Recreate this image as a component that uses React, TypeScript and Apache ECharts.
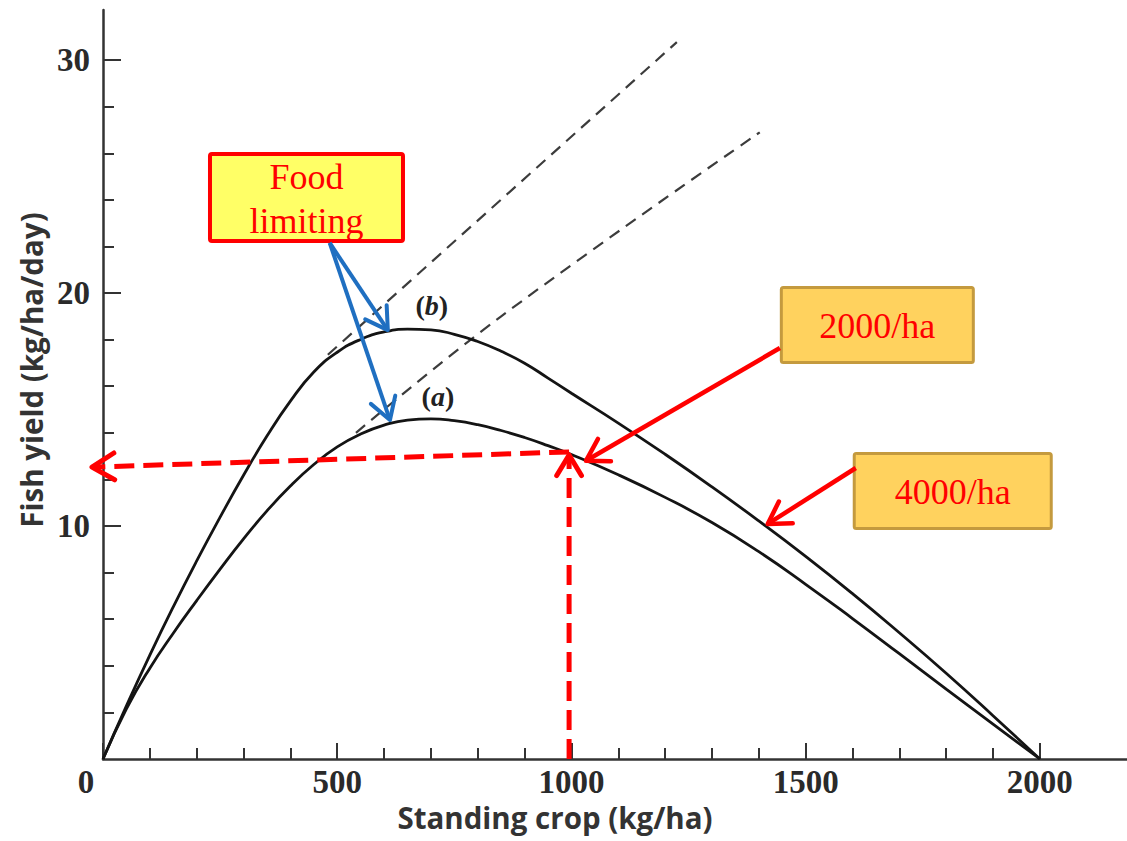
import React, { useEffect, useRef } from "react";
import * as echarts from "echarts";

// ---------------- data ----------------
const standingCrop = [0, 50, 100, 150, 200, 250, 300, 350, 400, 450, 500, 550, 600, 650, 700, 750, 800, 850, 900, 950, 1000, 1100, 1200, 1300, 1400, 1500, 1600, 1700, 1800, 1900, 2000];
const yieldB = [0, 2.28, 4.46, 6.53, 8.5, 10.38, 12.18, 13.86, 15.36, 16.61, 17.46, 18.01, 18.33, 18.45, 18.42, 18.23, 17.92, 17.5, 16.99, 16.35, 15.7, 14.42, 13.08, 11.68, 10.22, 8.7, 7.1, 5.42, 3.68, 1.86, 0];
const yieldA = [0, 2.15, 3.9, 5.4, 6.8, 8.15, 9.45, 10.65, 11.72, 12.64, 13.4, 13.95, 14.33, 14.55, 14.6, 14.52, 14.35, 14.1, 13.8, 13.45, 13.07, 12.2, 11.23, 10.15, 8.9, 7.5, 6.03, 4.52, 3.0, 1.5, 0];

const dashCropB = [480, 1225];
const dashYieldB = [17.35, 30.77];
const dashCropA = [540, 850, 1402];
const dashYieldA = [14.0, 19.0, 26.9];

const xTickLabels = [0, 500, 1000, 1500, 2000];
const xMinorTicks = [100, 200, 300, 400, 500, 600, 700, 800, 900, 1000, 1100, 1200, 1300, 1400, 1500, 1600, 1700, 1800, 1900, 2000];
const yTickLabels = [10, 20, 30];
const yMinorTicks = [2, 4, 6, 8, 10, 12, 14, 16, 18, 20, 22, 24, 26, 28, 30];

const curveLetters = ["a", "b"];
const xTitle = "Standing crop (kg/ha)";
const yTitle = "Fish yield (kg/ha/day)";
const boxTexts = ["Food\nlimiting", "2000/ha", "4000/ha"];

// ---------------- annotation layout (data-space anchors) ----------------
const BLUE = "#1F6FC1";
const RED = "#FF0000";
const SERIF = '"Liberation Serif", "Times New Roman", serif';
const SANS = '"Open Sans", Lato, sans-serif';
const NUM_COLOR = "#2a2a2a";

const arrowDefs = [
  { from: [484, 22.15], to: [608, 18.41], color: BLUE, width: 4, dash: null as number[] | null, head: 25 },
  { from: [484, 22.15], to: [612.6, 14.55], color: BLUE, width: 4, dash: null, head: 25 },
  { from: [1445, 17.64], to: [1031, 12.8], color: RED, width: 4.5, dash: null, head: 25 },
  { from: [1607, 12.49], to: [1419, 10.09], color: RED, width: 4.5, dash: null, head: 25 },
  { from: [995, 13.18], to: [-23.5, 12.53], color: RED, width: 5, dash: [20, 9], head: 26 },
  { from: [995, 0], to: [995, 13.05], color: RED, width: 5, dash: [20, 9], head: 24 },
];

const boxDefs = [
  { at: [434.4, 24.1], w: 193, h: 87, fill: "#FFFF66", stroke: "#FF0000", lw: 4 },
  { at: [1653, 18.63], w: 192, h: 75, fill: "#FFD25E", stroke: "#C49A3E", lw: 3 },
  { at: [1814, 11.5], w: 197, h: 75, fill: "#FFD25E", stroke: "#C49A3E", lw: 3 },
];

const letterAnchors = [
  [715, 15.54],
  [702, 19.48],
];

const SPREAD = Math.PI / 5.8;

const renderArrow = (params: any, api: any) => {
  const d = arrowDefs[params.dataIndex];
  const p1 = api.coord([api.value(0), api.value(1)]);
  const p2 = api.coord([api.value(2), api.value(3)]);
  const ang = Math.atan2(p1[1] - p2[1], p1[0] - p2[0]);
  const L = d.head;
  const a = [p2[0] + L * Math.cos(ang + SPREAD), p2[1] + L * Math.sin(ang + SPREAD)];
  const b = [p2[0] + L * Math.cos(ang - SPREAD), p2[1] + L * Math.sin(ang - SPREAD)];
  return {
    type: "group",
    children: [
      {
        type: "line",
        shape: { x1: p1[0], y1: p1[1], x2: p2[0], y2: p2[1] },
        style: { stroke: d.color, lineWidth: d.width, lineDash: d.dash || null, lineCap: "butt", fill: null },
      },
      {
        type: "polyline",
        shape: { points: [a, p2, b] },
        style: { stroke: d.color, lineWidth: d.width, fill: null, lineJoin: "round", lineCap: "round" },
      },
    ],
  };
};

const renderBox = (params: any, api: any) => {
  const b = boxDefs[params.dataIndex];
  const c = api.coord([api.value(0), api.value(1)]);
  return {
    type: "group",
    children: [
      {
        type: "rect",
        shape: { x: c[0] - b.w / 2, y: c[1] - b.h / 2, width: b.w, height: b.h, r: 2 },
        style: { fill: b.fill, stroke: b.stroke, lineWidth: b.lw },
      },
      {
        type: "text",
        x: c[0],
        y: c[1] + 1,
        style: {
          text: boxTexts[params.dataIndex],
          fill: RED,
          fontFamily: SERIF,
          fontSize: 36,
          lineHeight: 44,
          align: "center",
          verticalAlign: "middle",
        },
      },
    ],
  };
};

const renderLetter = (params: any, api: any) => {
  const c = api.coord([api.value(0), api.value(1)]);
  const letter = curveLetters[params.dataIndex];
  return {
    type: "text",
    x: c[0],
    y: c[1],
    style: {
      text: `{p|(}{i|${letter}}{p|)}`,
      align: "center",
      verticalAlign: "middle",
      rich: {
        p: { fontFamily: SERIF, fontSize: 28, fontWeight: "bold", fill: "#222", color: "#222" },
        i: { fontFamily: SERIF, fontSize: 28, fontWeight: "bold", fontStyle: "italic", fill: "#222", color: "#222" },
      },
    },
  };
};

const numLabel = {
  fontFamily: SERIF,
  fontSize: 33,
  fontWeight: "bold" as const,
  color: NUM_COLOR,
};

const curveStyle = { color: "#141414", width: 2.8 };
const dashStyle = { color: "#3c3c3c", width: 2.2, type: [12, 8] };

const option: any = {
  animation: false,
  backgroundColor: "#ffffff",
  grid: { left: 103, right: 0, top: 10, bottom: 82, containLabel: false, outerBoundsMode: "none" },
  xAxis: [
    {
      type: "value",
      min: 0,
      max: 2186,
      position: "bottom",
      name: xTitle,
      nameLocation: "middle",
      nameGap: 43,
      nameTextStyle: { fontFamily: SANS, fontSize: 29.5, fontWeight: "bold", color: "#333", padding: [0, 120, 0, 0] },
      axisLine: { show: true, lineStyle: { color: "#333", width: 2.5 } },
      axisTick: { show: true, inside: true, length: 16, customValues: xTickLabels, lineStyle: { color: "#333", width: 2 } },
      axisLabel: {
        show: true,
        customValues: xTickLabels,
        margin: 6,
        ...numLabel,
        formatter: (v: number) => (v === 0 ? "{z|0}" : String(v)),
        rich: { z: { ...numLabel, padding: [0, 34, 0, 0] } },
      },
      splitLine: { show: false },
    },
    {
      type: "value",
      min: 0,
      max: 2186,
      position: "bottom",
      axisLine: { show: false },
      axisTick: { show: true, inside: true, length: 11, customValues: xMinorTicks, lineStyle: { color: "#333", width: 2 } },
      axisLabel: { show: false },
      splitLine: { show: false },
    },
  ],
  yAxis: [
    {
      type: "value",
      min: 0,
      max: 32.15,
      position: "left",
      name: yTitle,
      nameLocation: "middle",
      nameGap: 55,
      nameTextStyle: { fontFamily: SANS, fontSize: 29.5, fontWeight: "bold", color: "#333", padding: [0, 0, 0, 29] },
      axisLine: { show: true, lineStyle: { color: "#333", width: 2.5 } },
      axisTick: { show: true, inside: true, length: 18, customValues: yTickLabels, lineStyle: { color: "#333", width: 2 } },
      axisLabel: { show: true, customValues: yTickLabels, margin: 13, ...numLabel },
      splitLine: { show: false },
    },
    {
      type: "value",
      min: 0,
      max: 32.15,
      position: "left",
      axisLine: { show: false },
      axisTick: { show: true, inside: true, length: 11, customValues: yMinorTicks, lineStyle: { color: "#333", width: 2 } },
      axisLabel: { show: false },
      splitLine: { show: false },
    },
  ],
  series: [
    {
      name: "(b)",
      type: "line",
      data: standingCrop.map((x, i) => [x, yieldB[i]]),
      showSymbol: false,
      symbol: "none",
      smooth: 0.5,
      lineStyle: curveStyle,
      silent: true,
      z: 3,
    },
    {
      name: "(a)",
      type: "line",
      data: standingCrop.map((x, i) => [x, yieldA[i]]),
      showSymbol: false,
      symbol: "none",
      smooth: 0.5,
      lineStyle: curveStyle,
      silent: true,
      z: 3,
    },
    {
      name: "(b) food limiting",
      type: "line",
      data: dashCropB.map((x, i) => [x, dashYieldB[i]]),
      showSymbol: false,
      symbol: "none",
      lineStyle: dashStyle,
      silent: true,
      z: 2,
    },
    {
      name: "(a) food limiting",
      type: "line",
      data: dashCropA.map((x, i) => [x, dashYieldA[i]]),
      showSymbol: false,
      symbol: "none",
      smooth: 0.4,
      lineStyle: dashStyle,
      silent: true,
      z: 2,
    },
    {
      type: "custom",
      name: "letters",
      data: letterAnchors,
      renderItem: renderLetter,
      silent: true,
      z: 4,
    },
    {
      type: "custom",
      name: "boxes",
      data: boxDefs.map((b) => b.at),
      renderItem: renderBox,
      silent: true,
      z: 5,
    },
    {
      type: "custom",
      name: "arrows",
      data: arrowDefs.map((d) => [d.from[0], d.from[1], d.to[0], d.to[1]]),
      encode: { x: [0, 2], y: [1, 3] },
      renderItem: renderArrow,
      clip: false,
      silent: true,
      z: 6,
    },
  ],
};

export default function App() {
  const ref = useRef<HTMLDivElement>(null);
  useEffect(() => {
    if (!ref.current) return;
    const chart = echarts.init(ref.current, null, { renderer: "svg" });
    chart.setOption(option);
    return () => chart.dispose();
  }, []);
  return (
    <div
      ref={ref}
      style={{ position: "absolute", left: 0, top: 0, width: 1127, height: 841, background: "#fff" }}
    />
  );
}
